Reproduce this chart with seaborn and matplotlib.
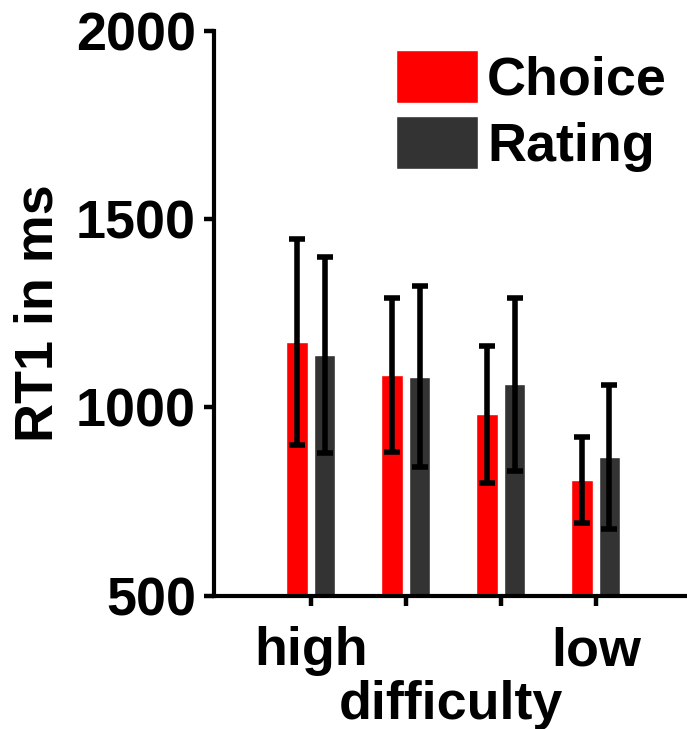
import matplotlib
matplotlib.use("Agg")
import matplotlib.pyplot as plt
import seaborn as sns
import pandas as pd

# Mean RT1 (ms) and SD per difficulty level and task
difficulty = ["1", "2", "3", "4"]
tick_labels = ["high", "", "", "low"]
conditions = ["Choice", "Rating"]
choice_mean = [1173, 1086, 982, 807]
choice_sd = [274, 205, 182, 113]
rating_mean = [1139, 1081, 1061, 868]
rating_sd = [260, 240, 230, 190]

colors = {"Choice": "#ff0000", "Rating": "#333333"}

sns.set_theme(style="ticks")
plt.rcParams["font.family"] = ["Liberation Sans", "DejaVu Sans"]
plt.rcParams["font.weight"] = "bold"
plt.rcParams["axes.labelweight"] = "bold"
for key in ["text.color", "axes.labelcolor", "xtick.color", "ytick.color",
            "axes.edgecolor"]:
    plt.rcParams[key] = "black"

df = pd.DataFrame({
    "difficulty": difficulty * 2,
    "condition": ["Choice"] * 4 + ["Rating"] * 4,
    "rt": choice_mean + rating_mean,
})
sds = {"Choice": choice_sd, "Rating": rating_sd}
means = {"Choice": choice_mean, "Rating": rating_mean}

W, H = 687, 729
fig = plt.figure(figsize=(W / 100, H / 100), dpi=100)
ax = fig.add_axes([214 / W, 1 - 595.7 / H, 1 - 214 / W, (595.7 - 30.6) / H])

sns.barplot(data=df, x="difficulty", y="rt", hue="condition",
            hue_order=conditions, palette=colors, width=0.576, gap=0.21,
            errorbar=None, saturation=1, ax=ax)

for cond, cont in zip(conditions, ax.containers):
    for bar, m, s in zip(cont, means[cond], sds[cond]):
        xc = bar.get_x() + bar.get_width() / 2
        ax.errorbar(xc, m, yerr=s, fmt="none", ecolor="black",
                    elinewidth=4, capsize=6, capthick=4, zorder=5)

ax.set_ylim(500, 2000)
ax.set_xlim(-1.02, 3.96)
ax.set_yticks([500, 1000, 1500, 2000])
ax.set_xticks(range(4))
ax.set_xticklabels(tick_labels)

fs = 38.8
ax.tick_params(axis="both", labelsize=fs, width=3.2, length=7, color="black",
               labelcolor="black")
ax.tick_params(axis="y", pad=6)
ax.tick_params(axis="x", pad=15)
for lab in ax.get_xticklabels() + ax.get_yticklabels():
    lab.set_fontweight("bold")

ax.set_xlabel("difficulty", fontsize=fs, fontweight="bold", labelpad=3)
ax.set_ylabel("RT1 in ms", fontsize=fs, fontweight="bold", labelpad=9)

sns.despine(ax=ax)
for side in ["left", "bottom"]:
    ax.spines[side].set_linewidth(3)
    ax.spines[side].set_color("black")

ax.legend(loc="upper right", bbox_to_anchor=(667 / W, 1 - 50 / H),
          bbox_transform=fig.transFigure, frameon=False,
          prop={"weight": "bold", "size": fs},
          handlelength=1.52, handleheight=1.13, handletextpad=0.17,
          labelspacing=0.19, borderpad=0, borderaxespad=0)

fig.savefig("out.png", dpi=100)
